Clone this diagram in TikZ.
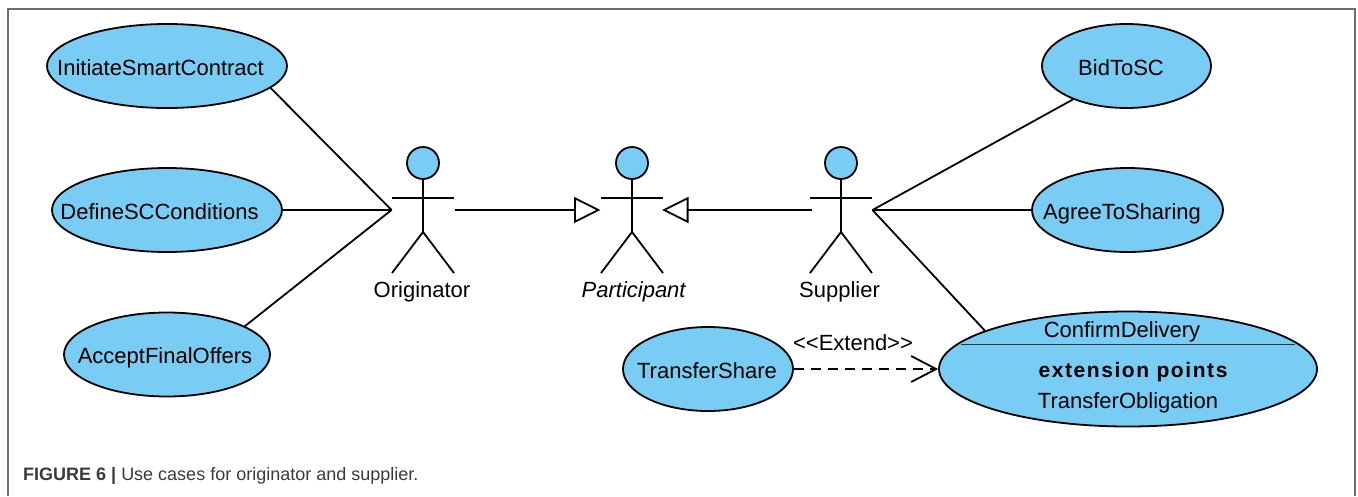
\documentclass[tikz,border=0pt]{standalone}
\usepackage{fontspec}
\setmainfont{Liberation Sans}
\usetikzlibrary{shapes.geometric, arrows.meta}
\definecolor{casefill}{HTML}{79CDF5}
\definecolor{framegray}{HTML}{6E6E6E}
\definecolor{capgray}{HTML}{3A3A3A}
\newcommand{\casetext}[2]{\makebox[0pt]{\hspace*{#1pt}#2}}
\tikzset{
	usecase/.style={ellipse, draw=black, line width=1.8pt, fill=casefill, inner sep=0pt, text height=18pt, text depth=0pt, minimum height=84pt, font=\fontsize{22}{24}\selectfont},
	actorbox/.style={minimum width=63pt, minimum height=126pt, inner sep=0pt, outer sep=0pt},
	actorlabel/.style={anchor=base, inner sep=0pt, font=\fontsize{22}{24}\selectfont},
	assoc/.style={line width=1.8pt},
	inherit/.style={line width=1.8pt, -{Triangle[open, length=26.5pt, width=26pt, line width=1.8pt]}},
	extend/.style={line width=1.8pt, dash pattern=on 10pt off 7pt, -{Straight Barb[length=25pt, width=26pt, line width=1.8pt]}}
}

\begin{document}
\begin{tikzpicture}[x=1pt, y=-1pt]
			\useasboundingbox (0, 0) rectangle (1358, 496);
			\draw[line width=1.4pt, framegray] (8, 496) -- (8, 9) -- (1355, 9) -- (1355, 496);

			\node[usecase, minimum width=240pt] (initiate) at (167, 66) {\casetext{-13}{InitiateSmartContract}};
			\node[usecase, minimum width=230pt] (define) at (167, 210) {\casetext{-15}{DefineSCConditions}};
			\node[usecase, minimum width=206pt] (accept) at (167, 354.5) {\casetext{-4}{AcceptFinalOffers}};
			\node[usecase, minimum width=169pt] (bid) at (1126.5, 66) {\casetext{-11}{BidToSC}};
			\node[usecase, minimum width=191pt] (agree) at (1127.5, 210) {\casetext{-11}{AgreeToSharing}};
			\node[usecase, minimum width=170pt] (share) at (708, 369) {\casetext{-2}{TransferShare}};
			\node[usecase, minimum width=378pt, minimum height=115pt] (confirm) at (1128, 369) {};

			\coordinate (splitleft) at (961, 344);
			\coordinate (splitright) at (1295, 344);
			\draw[line width=0.8pt, black!80] (splitleft) -- (splitright);
			\node[actorlabel] (confirmname) at (1122, 337) {ConfirmDelivery};
			\node[actorlabel, font=\fontsize{21}{24}\selectfont\bfseries\addfontfeature{LetterSpace=7.5}] (points) at (1133, 377) {extension points};
			\node[actorlabel] (obligation) at (1128, 408) {TransferObligation};

			\foreach \name/\xpos/\xtext/\caption in {originator/423/422/Originator, participant/632/634/\textit{Participant}, supplier/841/839.5/Supplier} {
				\node[actorbox] (\name) at (\xpos, 210) {};
				\node[actorlabel] (\name label) at (\xtext, 297.5) {\caption};
				\draw[line width=1.8pt, fill=casefill] (\xpos, 163) circle (16);
				\draw[line width=1.8pt] (\xpos, 179) -- (\xpos, 232);
				\draw[line width=1.8pt] (\xpos - 31, 198) -- (\xpos + 31, 198);
				\draw[line width=1.8pt] (\xpos - 31, 273) -- (\xpos, 232) -- (\xpos + 31, 273);
			}

			\draw[assoc] (initiate.-12) -- (originator.west);
			\draw[assoc] (define.east) -- (originator.west);
			\draw[assoc] (accept.20) -- (originator.west);
			\draw[assoc] (supplier.east) -- (bid.212);
			\draw[assoc] (supplier.east) -- (agree.west);
			\draw[assoc] (supplier.east) -- (confirm.165.4);

			\draw[inherit] (originator.east) -- (participant.west);
			\draw[inherit, shorten <=-2.5pt, shorten >=-1.5pt] (supplier.west) -- (participant.east);
			\draw[extend] (share.east) -- (confirm.west);
			\node[actorlabel] (extendlabel) at (853, 350) {<{}<Extend>{}>};

			\node[anchor=west, inner sep=0pt, capgray, font=\fontsize{18}{20}\selectfont] (caption) at (23, 476) {\textbf{FIGURE 6 |} Use cases for originator and supplier.};

		\end{tikzpicture}
\end{document}
